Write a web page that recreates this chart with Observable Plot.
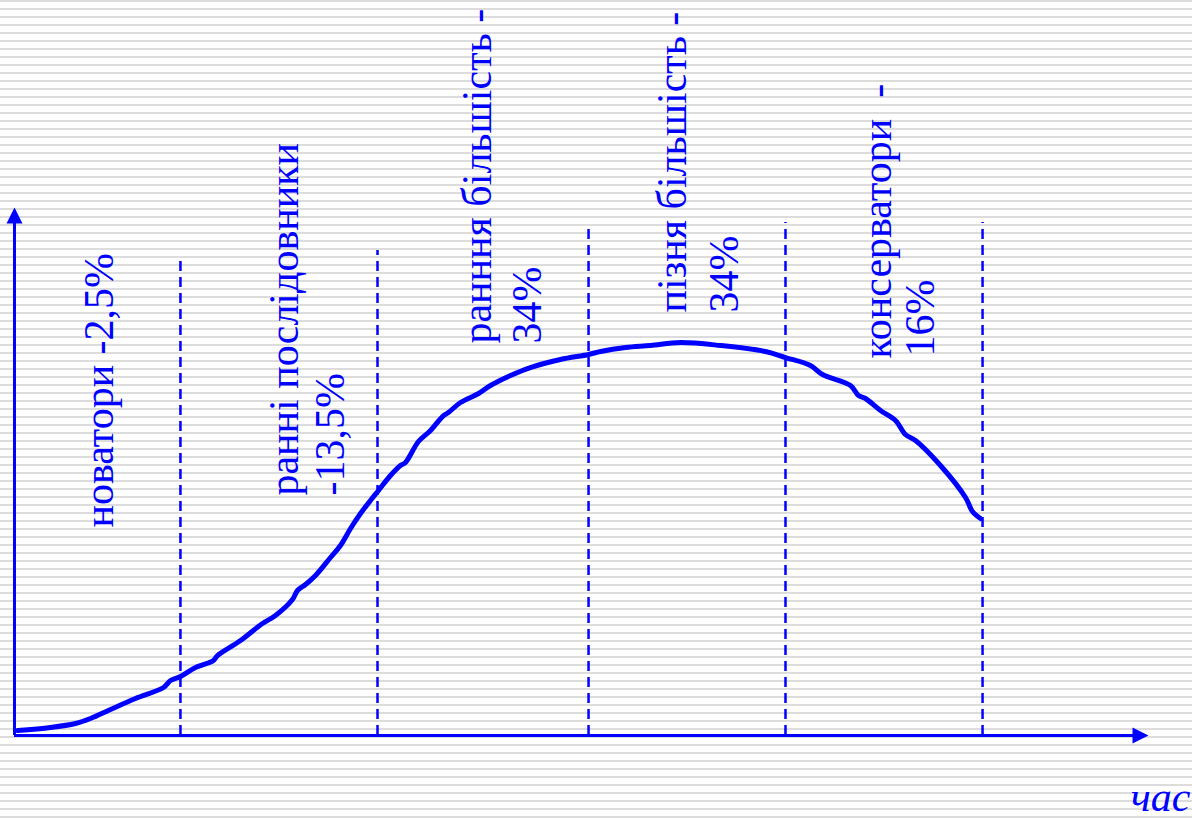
<!DOCTYPE html>
<html>
<head>
<meta charset="utf-8">
<script src="https://cdn.jsdelivr.net/npm/d3@7"></script>
<script src="https://cdn.jsdelivr.net/npm/@observablehq/plot@0.6"></script>
<style>
html, body { margin: 0; padding: 0; overflow: hidden; }
body {
  width: 1192px; height: 818px;
  background: repeating-linear-gradient(to bottom, #dcdcdc 0px, #dcdcdc 2px, #ffffff 2px, #ffffff 8px);
}
</style>
</head>
<body>
<div id="chart"></div>
<script>
// ---- data ----
const time = [0.27, 3.22, 5.45, 6.79, 8.58, 10.81, 13.32, 13.94, 14.83, 16.18, 17.78, 18.14, 20.20, 22.16, 23.32, 24.84, 25.29, 26.01, 26.90, 28.24, 29.13, 30.03, 30.92, 31.81, 32.53, 33.60, 34.49, 34.94, 36.10, 37.18, 38.25, 38.78, 39.86, 41.47, 42.54, 44.33, 46.11, 48.79, 51.30, 52.37, 54.61, 56.84, 59.52, 63.09, 67.11, 68.90, 71.13, 72.21, 74.71, 75.42, 76.05, 77.39, 78.73, 79.62, 80.52, 82.75, 84.99, 85.61, 86.33];
const adopters = [0.97, 1.56, 2.34, 3.31, 5.07, 7.21, 9.36, 10.72, 11.50, 13.26, 14.62, 15.59, 18.52, 21.83, 23.39, 26.51, 28.27, 29.43, 31.19, 34.70, 37.04, 40.35, 43.27, 45.81, 47.76, 50.68, 52.63, 53.22, 57.31, 59.45, 62.18, 62.96, 64.91, 66.67, 68.23, 70.18, 71.73, 73.29, 74.27, 74.85, 75.63, 76.02, 76.61, 76.02, 74.85, 73.68, 72.12, 70.37, 68.23, 66.28, 65.69, 63.35, 61.40, 58.67, 57.50, 52.63, 46.39, 43.66, 42.30];
const boundaries = [14.83, 32.44, 51.30, 68.90, 86.51];
const boundaryTops = [92.98, 94.54, 99.42, 100, 100];
const groupLines = [
  ["новатори -2,5%"],
  ["ранні послідовники", "-13,5%"],
  ["ранння більшість -", "34%"],
  ["пізня більшість -", "34%"],
  ["консерватори  -", "16%"]
];
const axisLabel = "час";

// ---- layout (anchor of each label line, in chart units) ----
const labelLayout = [
  [[7.60, 40.55]],
  [[24.13, 46.78], [28.24, 46.78]],
  [[41.38, 76.41], [45.84, 76.41]],
  [[58.80, 82.46], [63.45, 82.46]],
  [[77.12, 73.49], [80.97, 73.88]]
];

const BLUE = "#0000ff";
const FONT = "'Liberation Serif', 'Times New Roman', Times, serif";

const curve = time.map((t, i) => ({t, v: adopters[i]}));
const rules = boundaries.map((b, i) => ({x: b, top: boundaryTops[i]}));
const labelRows = [];
groupLines.forEach((lines, g) => lines.forEach((txt, j) => {
  labelRows.push({text: txt, x: labelLayout[g][j][0], y: labelLayout[g][j][1]});
}));

const arrowUp = {draw(ctx) { ctx.moveTo(0, -15); ctx.lineTo(8, 1); ctx.lineTo(-8, 1); ctx.closePath(); }};
const arrowRight = {draw(ctx) { ctx.moveTo(15, 0); ctx.lineTo(-1, -8); ctx.lineTo(-1, 8); ctx.closePath(); }};

const chart = Plot.plot({
  width: 1192,
  height: 818,
  marginLeft: 14,
  marginRight: 59,
  marginTop: 222,
  marginBottom: 83,
  style: {background: "transparent", overflow: "visible", fontFamily: FONT},
  x: {domain: [0, 100], axis: null},
  y: {domain: [0, 100], axis: null},
  marks: [
    Plot.ruleX(rules, {x: "x", y1: 0, y2: "top", stroke: BLUE, strokeWidth: 2.5, strokeDasharray: "10,6"}),
    Plot.ruleX([0], {y1: 0, y2: 100, stroke: BLUE, strokeWidth: 3}),
    Plot.ruleY([0], {x1: 0, x2: 100, stroke: BLUE, strokeWidth: 3}),
    Plot.dot([{x: 0, y: 100}], {x: "x", y: "y", symbol: arrowUp, fill: BLUE, stroke: null}),
    Plot.dot([{x: 100, y: 0}], {x: "x", y: "y", symbol: arrowRight, fill: BLUE, stroke: null}),
    Plot.line(curve, {x: "t", y: "v", stroke: BLUE, strokeWidth: 5, curve: "catmull-rom", strokeLinejoin: "round", strokeLinecap: "round"}),
    Plot.text(labelRows, {x: "x", y: "y", text: "text", rotate: -90, textAnchor: "start", lineAnchor: "middle", fontSize: 42, fill: BLUE, fontFamily: FONT}),
    Plot.text([axisLabel], {frameAnchor: "bottom-right", text: d => d, dx: 57, dy: 62, textAnchor: "end", lineAnchor: "middle", fontSize: 42, fontStyle: "italic", fill: BLUE, fontFamily: FONT})
  ]
});
document.getElementById("chart").appendChild(chart);
</script>
</body>
</html>
